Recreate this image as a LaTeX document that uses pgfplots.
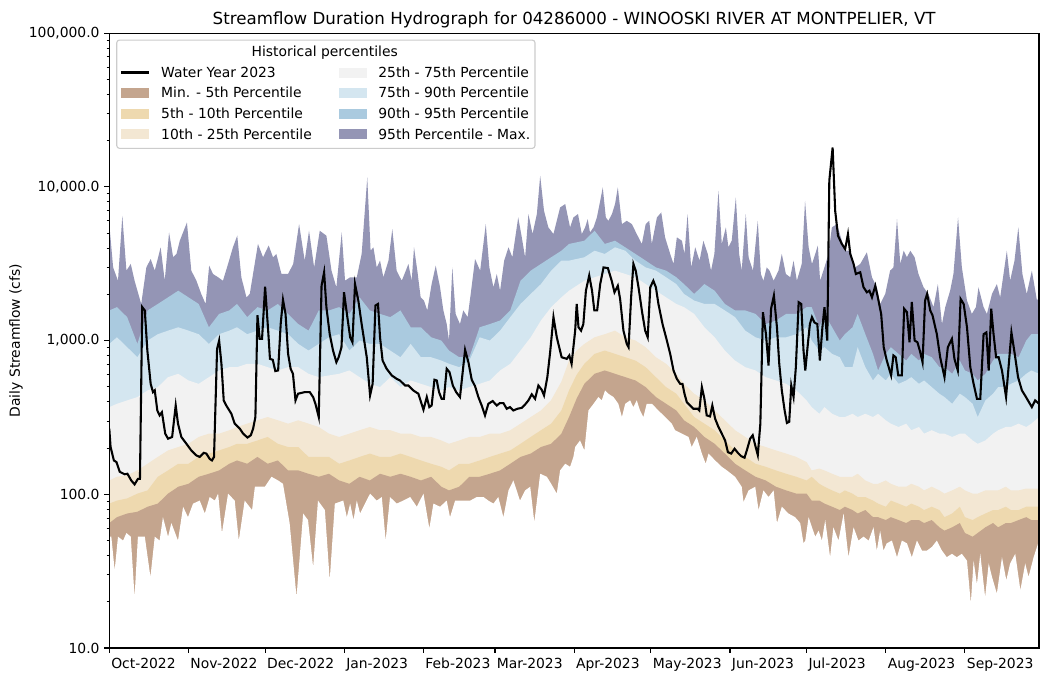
\documentclass[border=0pt]{standalone}
\usepackage{fontspec}
\setmainfont{DejaVu Sans}
\usepackage{pgfplots}
\pgfplotsset{compat=1.18}
\definecolor{cmin}{RGB}{196,165,142}
\definecolor{cfive}{RGB}{238,217,175}
\definecolor{cten}{RGB}{243,231,211}
\definecolor{cmid}{RGB}{242,242,242}
\definecolor{cseventy}{RGB}{212,230,240}
\definecolor{cninety}{RGB}{170,202,223}
\definecolor{cmax}{RGB}{148,149,181}
\pgfplotsset{
  patchleg/.style={legend image code/.code={\fill[##1] (0pt,-3.6pt) rectangle (20.4pt,3.6pt); \path (28.3pt,0pt);}},
  lineleg/.style={legend image code/.code={\draw[##1] (0pt,0pt) -- (20.4pt,0pt); \path (28.3pt,0pt);}},
}
\begin{document}
\begin{tikzpicture}
\path[use as bounding box] (-78.7pt,-24.5pt) rectangle (676.6pt,466.6pt);
\begin{axis}[
  at={(0,0)}, anchor=south west,
  scale only axis, width=669.4pt, height=442.8pt,
  ymode=log, ymin=10, ymax=100000, xmin=0, xmax=364,
  axis on top,
  axis line style={black, line width=0.8pt},
  tick pos=left, tick align=outside,
  major tick length=3.5pt, minor tick length=2pt,
  every tick/.style={black, line width=0.8pt},
  minor tick style={black, line width=0.6pt},
  xtick={0,31,61,92,123,151,182,212,243,273,304,335},
  xticklabels={Oct-2022,Nov-2022,Dec-2022,Jan-2023,Feb-2023,Mar-2023,Apr-2023,May-2023,Jun-2023,Jul-2023,Aug-2023,Sep-2023},
  xticklabel style={anchor=north west, xshift=-2.1pt},
  ytick={10,100,1000,10000,100000},
  yticklabels={10.0,100.0,{1,000.0},{10,000.0},{100,000.0}},
  minor ytick={20,30,40,50,60,70,80,90,200,300,400,500,600,700,800,900,2000,3000,4000,5000,6000,7000,8000,9000,20000,30000,40000,50000,60000,70000,80000,90000},
  tick label style={font=\fontsize{10}{12}\selectfont},
  ylabel={Daily Streamflow (cfs)},
  every axis y label/.style={at={(axis description cs:-0.1004,0.5)}, rotate=90, anchor=center, font=\fontsize{10}{12}\selectfont},
  legend columns=2,
  legend cell align=left,
  legend style={draw=none, fill=none, at={(rel axis cs:0.011,0.9475)}, anchor=north west, font=\fontsize{10}{12}\selectfont, column sep=0pt, row sep=4.95pt, inner sep=0pt, nodes={inner sep=0pt}},
]
% 95th - max
\addplot[draw=none, fill=cmax, forget plot] coordinates {
(0,5720)(1.5,2990)(3.4,2450)(5.1,6480)(6.7,2850)(8.4,3150)(9.9,2450)(12.5,1730)(14.5,2990)(16.2,3390)(17.8,2850)(20.1,4040)(21.7,2450)(23.4,5050)(25,3480)(26.3,3660)(27.6,4460)(30.4,5860)(32.1,2850)(34.1,2450)(36,2010)(37.7,1730)(39.1,3070)(40.6,2710)(42.6,2580)(44.5,2450)(46.5,3150)(48.4,4040)(50.1,4810)(51.7,2580)(53.7,1910)(55,2010)(58.2,4250)(60.2,3480)(62.4,4150)(64.1,3480)(65.4,3660)(67.4,2710)(70,2710)(72,3150)(74.3,5720)(76.5,3310)(78.2,5180)(80.2,2990)(82.4,5180)(85,4810)(87,2850)(88.9,2220)
(91,5050)(92.3,2450)(94.3,2580)(96.9,2580)(98.8,3660)(101,11500)(102.3,3840)(103.4,4040)(104.7,2990)(106,3310)(107.3,2580)(109.3,3310)(110.8,5310)(112.5,2850)(114.5,2450)(116.1,2850)(117.1,3150)(118.4,2450)(119.3,4040)(120.6,2850)(121.9,1910)(123.2,1820)(124.5,1570)(126.2,2330)(127.8,3070)(129.5,2220)(130.8,1570)(132.1,1280)(133,1000)(134.3,2990)(135.6,1490)(137.3,1280)(138.6,1570)(140.3,1420)(141.5,2010)(143.2,3390)(145.2,2850)(147.4,5720)(148.8,2990)(150.4,2220)(151.7,2710)(153,2110)(154.6,3310)(156.3,4040)(157.8,3480)(160.1,6320)(161.5,4690)(162.8,3480)(164.1,6650)(165.7,4930)(167.4,6650)(168.7,11800)(170.2,6980)(171.9,5450)(173.9,4930)(176.5,7340)(178.5,7720)(180.4,5450)(181.7,6320)(183.5,6650)
(185,4930)(186.3,5450)(187.3,6160)(188.2,5050)(189.6,5450)(190.9,6320)(192.2,8110)(193.2,9900)(194.4,6320)(195.4,6010)(196.8,6650)(198,7720)(199.1,9900)(200.7,5720)(202.6,6010)(204.6,5720)(206.5,4930)(208.5,4250)(210,5720)(211.4,6010)(212.4,4250)(214.4,6320)(216.1,6810)(217.6,4690)(219.6,3660)(220.9,3150)(222.2,4690)(224.2,4460)(225.2,3660)(226.4,6650)(227.8,2990)(229.4,4040)(231.1,3310)(232.6,4460)(234.3,3660)(235.6,2850)(236.9,3660)(238.5,9420)(239.8,4250)(241.4,5450)(242.4,4040)(243.7,4460)(245.3,8530)(246.6,3660)(247.6,2850)(249.2,6650)(250.3,3480)(252,2850)(253.9,6010)(255.1,2710)(256.1,2450)(257.4,2990)(258.5,2850)(260.1,2450)(262,2850)(263.3,3660)(264.9,2710)(266.6,2580)(267.9,3310)(269.2,2450)(271.1,3150)(272.4,8110)
(273.8,4040)(275.1,3150)(276.4,3660)(277.4,4150)(278.3,2450)(279.6,2850)(281.6,3660)(282.9,5450)(284.9,5720)(286.8,4460)(288.1,3840)(290.1,3840)(292,2990)(294,3150)(296.6,3750)(298.6,2580)(300.5,2220)(301.8,1730)(303.8,2010)(305.7,2850)(307,2990)(308.4,6160)(309.7,3150)(311,3840)(312.3,3480)(313.6,3840)(315.3,3480)(316.8,2710)(318.8,2220)(320.7,2010)(322.7,1650)(324.4,2330)(326,1280)(327.3,1650)(329.2,2110)(330.5,2710)(332.3,6320)(333.8,2990)(335.8,1820)(337.7,1490)(339.3,1650)(340.3,2220)(342.3,1650)(343.6,1490)(345.6,2010)(347.5,2330)(348.8,1910)(350.1,2710)(351.4,3840)(352.7,2450)(354.4,3310)(355.9,5450)(357.5,2710)(359.2,2010)(361.2,2850)(363.2,1820)(364,1910)
} \closedcycle;
% 90th - 95th
\addplot[draw=none, fill=cninety, forget plot] coordinates {
(0,1570)(3,1650)(7,1420)(11,951)(15,1570)(19,1730)(23,1910)(27,2110)(31,1910)(35,1730)(39,1220)(43,1490)(47,1570)(50,1730)(54,1420)(58,1650)(62,1570)(66,1730)(70,1490)(74,1280)(78,1160)(82,1570)(86,1570)(90,1650)
(94,1490)(98,1910)(102,1570)(106,1490)(110,1420)(114,1570)(118,1220)(122,1220)(126,1050)(130,1000)(133,861)(137,779)(141,779)(145,1220)(149,1280)(153,1350)(157,1570)(161,2450)(165,2850)(169,3150)(173,3480)(177,3840)(180,4250)
(186,4460)(190,5180)(194,4250)(198,4460)(202,4040)(206,3660)(210,3310)(214,2990)(218,2850)(222,2580)(225,2330)(229,2010)(233,2330)(237,2110)(241,1730)(245,1570)(249,1570)(253,1490)(257,1280)(261,1350)(265,1490)(269,1490)
(273,1650)(275,1650)(278,1220)(280,1490)(283,1220)(286,1000)(288,1100)(291,1220)(293,1490)(296,1100)(299,819)(301,639)(304,819)(306,905)(309,819)(312,741)(314,819)(317,741)(319,819)(322,779)(325,671)(327,671)(330,608)(333,741)(335,639)(338,608)(340,550)(343,608)(346,741)(348,819)(351,819)(353,819)(356,779)(359,1000)(361,1100)(364,1100)
} \closedcycle;
% 75th - 90th
\addplot[draw=none, fill=cseventy, forget plot] coordinates {
(0,951)(3,1050)(7,905)(11,779)(15,1000)(19,1100)(23,1160)(27,1220)(31,1160)(35,1100)(39,951)(43,1100)(47,1160)(50,1220)(54,1100)(58,1160)(62,1220)(66,1160)(70,1100)(74,951)(78,861)(82,951)(86,1050)(90,1100)
(94,861)(98,1000)(102,951)(106,951)(110,861)(114,779)(118,951)(122,779)(126,779)(130,741)(133,706)(137,671)(141,741)(145,1050)(149,1000)(153,1160)(157,1420)(161,1730)(165,2010)(169,2330)(173,2850)(177,3310)(180,3310)
(186,3480)(190,3840)(194,3660)(198,4040)(202,3840)(206,3310)(210,2990)(214,2850)(218,2580)(222,2330)(225,2010)(229,1820)(233,1730)(237,1730)(241,1570)(245,1420)(249,1160)(253,1050)(257,1000)(261,1050)(265,1050)(269,1100)
(273,1220)(275,1000)(278,861)(280,905)(283,819)(286,779)(288,671)(291,671)(293,905)(296,671)(299,550)(301,608)(304,550)(306,608)(309,523)(312,550)(314,578)(317,523)(319,550)(322,498)(325,451)(327,429)(330,388)(333,451)(335,429)(338,388)(340,318)(343,408)(346,451)(348,498)(351,498)(353,523)(356,550)(359,608)(361,639)(364,608)
} \closedcycle;
% 25th - 75th
\addplot[draw=none, fill=cmid, forget plot] coordinates {
(0,369)(3,388)(7,408)(11,429)(15,474)(19,498)(23,578)(27,608)(31,550)(35,523)(39,578)(43,639)(47,671)(50,671)(54,706)(58,706)(62,671)(66,639)(70,671)(74,671)(78,608)(82,578)(86,593)(90,608)
(94,639)(98,578)(102,523)(106,498)(110,578)(114,498)(118,550)(122,523)(126,498)(130,474)(133,498)(137,474)(141,498)(145,523)(149,550)(153,639)(157,706)(161,861)(165,1050)(169,1350)(173,1650)(177,1910)(180,2110)
(186,2450)(190,2580)(194,2710)(198,2850)(202,2710)(206,2580)(210,2330)(214,2110)(218,1910)(222,1730)(225,1650)(229,1490)(233,1220)(237,1050)(241,861)(245,741)(249,671)(253,639)(257,578)(261,550)(265,523)(269,474)
(273,408)(275,369)(278,334)(280,369)(283,334)(286,318)(288,318)(291,334)(293,318)(296,334)(299,318)(301,334)(304,303)(306,288)(309,274)(312,288)(314,261)(317,274)(319,248)(322,261)(325,248)(327,248)(330,236)(333,248)(335,248)(338,224)(340,213)(343,224)(346,248)(348,261)(351,274)(353,274)(356,288)(359,274)(361,288)(364,318)
} \closedcycle;
% 10th - 25th
\addplot[draw=none, fill=cten, forget plot] coordinates {
(0,123)(3,130)(7,133)(11,143)(15,158)(19,175)(23,193)(27,203)(31,213)(35,236)(39,248)(43,248)(47,261)(50,274)(54,288)(58,303)(62,318)(66,303)(70,288)(74,303)(78,288)(82,274)(86,248)(90,236)
(94,248)(98,261)(102,274)(106,261)(110,261)(114,248)(118,248)(122,236)(126,236)(130,224)(133,213)(137,224)(141,236)(145,236)(149,248)(153,248)(157,261)(161,288)(165,318)(169,351)(173,410)(177,540)(180,741)
(183,861)(186,951)(190,1050)(194,1100)(198,1160)(202,1050)(206,1000)(210,905)(214,779)(218,706)(222,608)(225,523)(229,451)(233,408)(237,351)(241,303)(245,261)(249,236)(253,213)(257,203)(261,193)(265,184)(269,175)
(273,162)(275,143)(278,147)(280,143)(283,136)(286,130)(288,130)(291,130)(293,136)(296,123)(299,117)(301,117)(304,123)(306,117)(309,112)(312,112)(314,117)(317,112)(319,106)(322,112)(325,106)(327,101)(330,106)(333,112)(335,106)(338,101)(340,101)(343,106)(346,106)(348,106)(351,112)(353,106)(356,106)(359,109)(361,109)(364,109)
} \closedcycle;
% 5th - 10th
\addplot[draw=none, fill=cfive, forget plot] coordinates {
(0,87)(3,91)(7,94)(11,101)(15,106)(19,130)(23,143)(27,158)(31,158)(35,175)(39,184)(43,193)(47,203)(50,213)(54,213)(58,224)(62,236)(66,213)(70,203)(74,203)(78,175)(82,175)(86,175)(90,158)
(94,166)(98,175)(102,184)(106,175)(110,175)(114,184)(118,175)(122,166)(126,158)(130,151)(133,143)(137,158)(141,158)(145,166)(149,175)(153,184)(157,193)(161,213)(165,236)(169,261)(173,288)(177,351)(180,474)
(183,600)(186,706)(190,819)(194,861)(198,819)(202,779)(206,741)(210,671)(214,578)(218,498)(222,451)(225,388)(229,318)(233,288)(237,261)(241,224)(245,193)(249,175)(253,158)(257,151)(261,143)(265,136)(269,130)
(273,123)(275,130)(278,117)(280,112)(283,106)(286,101)(288,106)(291,101)(293,96)(296,96)(299,91)(301,87)(304,83)(306,91)(309,87)(312,83)(314,87)(317,83)(319,79)(322,83)(325,79)(327,71)(330,75)(333,83)(335,71)(338,68)(340,71)(343,75)(346,79)(348,79)(351,83)(353,79)(356,79)(359,83)(361,83)(364,83)
} \closedcycle;
% min - 5th
\addplot[draw=none, fill=cmin, forget plot] coordinates {
(0,65)(3,71)(7,75)(11,77)(15,83)(19,87)(23,101)(27,112)(31,117)(35,130)(39,136)(43,143)(47,158)(50,166)(54,158)(58,175)(62,158)(66,166)(70,143)(74,143)(78,136)(82,130)(86,136)(90,123)
(94,117)(98,130)(102,123)(106,136)(110,130)(114,136)(118,130)(122,123)(126,130)(130,112)(133,106)(137,112)(141,130)(145,130)(149,136)(153,143)(157,158)(161,175)(165,184)(169,203)(173,213)(177,248)(180,318)
(183,420)(186,523)(190,608)(194,639)(198,608)(202,578)(206,550)(210,498)(214,429)(218,388)(222,351)(225,303)(229,274)(233,236)(237,213)(241,184)(245,158)(249,143)(253,130)(257,123)(261,112)(265,106)(269,101)
(273,101)(275,91)(278,91)(280,87)(283,83)(286,79)(288,83)(291,79)(293,75)(296,79)(299,71)(301,71)(304,68)(306,71)(309,68)(312,65)(314,68)(317,68)(319,65)(322,68)(325,61)(327,58)(330,61)(333,65)(335,56)(338,53)(340,56)(343,61)(346,65)(348,61)(351,65)(353,65)(356,68)(359,71)(361,68)(364,68)
} \closedcycle;
% below min (white)
\addplot[draw=none, fill=white, forget plot] coordinates {
(0,53)(0.8,53)(2.1,32)(3.4,53)(5.4,50)(6.7,56)(8.4,53)(9.9,21.5)(11.2,53)(13.9,53)(16.1,29)(17.8,53)(19.7,50)(21,71)(23,53)(24.3,65)(26.9,50)(28.9,83)(30.8,71)(32.8,87)(35.4,91)(37.4,75)(39.3,96)(41.3,91)(42.6,101)(44.1,56)(46.5,101)(49.1,91)(50.7,50)(53,91)(55.9,79)(57,112)(58.9,112)(60.9,112)(63.5,130)(66.1,123)(68,117)(70.6,65)(73.3,21.5)(75.9,75)(77.8,68)(79.8,33.7)(81.7,91)(84.4,79)(86.3,27.6)(88.3,87)
(91.6,91)(93,71)(94.3,87)(95.6,68)(96.9,91)(98.2,75)(100.1,87)(102.1,101)(104.7,91)(106.7,96)(108.2,50)(109.9,96)(112.5,87)(115.1,91)(117.8,96)(120.4,83)(123,101)(125.3,60)(126.9,87)(129.5,83)(132.1,91)(133.4,71)(135.4,91)(138.6,91)(141.3,91)(143.9,96)(146.5,96)(148.4,91)(150.4,87)(152.3,96)(154.3,71)(156.3,106)(158.2,123)(160.8,91)(162.8,106)(164.8,112)(166.4,66)(168.7,136)(171.3,130)(173,117)(175.2,101)(176.5,143)(178.5,158)(180.4,151)(181.7,175)
(182.4,203)(184.3,224)(186,193)(187.6,351)(189.6,388)(191.5,429)(192.8,408)(194.1,474)(195.4,451)(197.4,429)(199.3,388)(200.7,318)(202,388)(203.9,408)(205.2,369)(206.5,408)(207.8,351)(209.1,318)(210.4,388)(212.4,388)(215,351)(217.6,318)(220.2,288)(221.5,261)(224.2,248)(226.8,236)(228,203)(230,236)(232,184)(233.5,158)(234.6,184)(237.2,166)(239.8,151)(241.8,143)(245,130)(247.6,112)(248.3,89)(250.3,106)(252.9,112)(254.2,79)(256.1,106)(258.1,96)(260.1,106)(261.4,65)(263.3,83)(265.9,75)(268.5,71)(270.5,65)(271.8,48)
(272.5,50)(273.8,71)(275.1,61)(276.4,53)(277.7,58)(279,50)(280.3,68)(282.2,39)(283.5,61)(285.5,50)(287.5,75)(289.4,39)(291.4,61)(293.3,50)(295.3,53)(297.3,50)(299.2,61)(300.5,43)(301.8,58)(303.1,43)(304.4,48)(306.4,50)(308.4,39)(310.3,50)(312.3,48)(314.2,39)(316.2,50)(318.2,43)(320.1,43)(322.1,45.5)(324,50)(326,43)(327.9,39)(329.9,41)(331.8,39)(333.8,41)(335.8,37)(337.3,19.5)(338.4,37)(339.7,26)(341,41)(342.9,21.5)(344.3,35.5)(345.6,29)(347.5,22.6)(349.5,39)(351.2,27.6)(352.7,35.5)(354.7,41)(356.7,23.8)(358.6,35.5)(359.9,29)(361.9,39)(364,50)
} \closedcycle;
% Water Year 2023
\addplot[black, line width=1.5pt, forget plot] coordinates {
(0,267)(0.5,203)(1.8,166)(2.8,162)(4.1,140)(6,135)(7.1,136)(8.6,123)(9.9,116)(11.2,126)(12,126)(12.9,1650)(13.9,1570)(14.9,861)(16.2,523)(17.1,462)(17.8,474)(18.8,351)(19.7,326)(20.6,342)(21.9,248)(23,230)(24.6,236)(26,378)(26.9,288)(28.2,236)(30.2,213)(32.1,193)(34.1,179)(35.4,175)(37,186)(38,184)(39.3,170)(40.2,166)(41,175)(42.2,883)(43,1000)(43.9,706)(44.8,408)(45.8,378)(47.8,334)(49.1,288)(51.1,267)(52.4,248)(54.1,234)(55.4,242)(56.3,267)(57.2,318)(58,1460)(58.9,1025)(59.8,1025)(61,2240)(62.2,1160)(62.9,760)(64,750)(65,633)(66.1,639)(67.1,1280)(68,1840)(69,1490)(70,819)(71,655)(71.9,608)(72.9,408)(73.9,451)(76.5,462)(78.5,462)(79.8,429)(80.7,388)(82,318)(83.1,2270)(84.1,2780)(85,1650)(86.3,1100)(87.6,861)(88.9,723)(89.8,779)(90.9,905)
(91.9,2060)(93.2,1420)(94.3,1050)(95.2,975)(96.2,2330)(97.5,1820)(98.8,1280)(100.8,779)(102.1,440)(103.1,523)(104.2,1690)(105.2,1730)(106,1050)(107,741)(108.6,655)(110.6,593)(112.5,564)(113.8,550)(115.8,510)(117.1,510)(119,474)(121,451)(123,355)(124.3,429)(125.3,369)(126.2,378)(127.3,556)(128.2,550)(129.1,462)(130.1,418)(131,418)(132.1,655)(133.2,623)(134.5,510)(135.8,462)(137.3,429)(139.3,870)(140.6,723)(141.9,556)(143.2,505)(144.5,429)(145.8,378)(147.1,326)(148.4,388)(150.1,404)(151.7,378)(152.9,392)(154.3,392)(155.6,360)(156.9,369)(158.2,351)(159.8,360)(161.5,365)(162.8,384)(164.1,408)(165.4,447)(166.7,418)(168,510)(169.3,478)(170.2,440)(171.5,578)(172.6,840)(173.9,1420)(175.2,1050)(177.1,779)(179.1,760)(180.1,800)(181,706)(182.4,1160)(183,1730)
(183.7,1220)(184.7,1160)(185.6,1280)(186.6,2110)(187.9,2650)(189,2110)(189.9,1570)(191,1570)(192.2,2330)(193.5,2990)(195.2,2960)(196.7,2450)(197.8,2060)(199.1,2270)(200,1860)(201.3,1160)(202.6,951)(203.3,905)(204.3,1910)(205.2,3150)(206.1,2850)(207.2,2220)(208.5,1570)(209.8,1160)(210.8,1050)(211.8,2220)(213,2450)(214,2220)(215,1730)(216.6,1280)(218.3,1000)(219.6,819)(220.9,639)(222.2,564)(223.5,523)(224.4,523)(225.2,451)(226.1,398)(227.4,378)(228.7,360)(230.4,360)(231,351)(232,498)(233,418)(233.9,326)(235.2,321)(236.1,378)(237.2,310)(238.5,274)(239.8,248)(241.1,224)(242.2,188)(243.5,184)(244.8,198)(246.1,186)(247.4,177)(248.7,173)(249.6,193)(250.9,230)(251.9,242)(252.9,208)(253.9,180)(254.9,288)(255.9,1530)(257.1,1100)(258.1,688)(259.1,1610)(260.2,1960)(261.4,1220)(262.3,706)(263.3,474)(264.4,351)(265.3,291)(266.2,296)(267,510)(267.9,429)(268.8,671)(269.9,1775)(270.9,1730)(271.8,861)
(272.5,639)(273.5,951)(274.3,1280)(275.1,1420)(276.1,1310)(277.2,1280)(278.2,741)(279.2,1220)(280,1650)(281.1,1000)(281.9,10950)(283.2,18000)(284.2,6980)(285.3,4810)(286.8,4250)(288.1,3940)(289.2,4930)(290.1,3660)(291.4,3150)(292.3,2710)(294,2780)(295.3,2220)(296.6,2060)(297.6,2110)(298.6,1910)(299.9,2270)(300.9,1910)(302.2,1490)(303.2,905)(304.4,741)(306.1,593)(307,800)(307.9,779)(308.9,593)(310.3,593)(311.2,1610)(312.3,1530)(313.3,975)(314.2,1780)(315.3,1000)(316.4,975)(317.5,840)(318.4,723)(319.4,1820)(320.2,2010)(321.4,1570)(322.3,1460)(324,1100)(325.3,779)(327,578)(328.3,905)(329.9,1025)(330.9,760)(332.2,639)(333.3,1865)(334.5,1730)(335.8,1220)(337.1,671)(338.4,523)(339.7,418)(341,418)(342.3,1100)(343.4,1130)(344.3,639)(345.3,1610)(346.2,1100)(347.2,779)(348.2,779)(349.5,639)(351.1,429)(352.4,779)(353.2,1130)(354.5,819)(355.8,578)(357.3,474)(358.9,429)(361.2,369)(362.5,408)(364,388)
};
% legend frame and title
\draw[rounded corners=2pt, draw=black!20, line width=0.8pt, fill=white] (rel axis cs:0.0080,0.8125) rectangle (rel axis cs:0.4579,0.9886);
\node[anchor=base, font=\fontsize{10}{12}\selectfont] at (rel axis cs:0.2317,0.9626) {Historical percentiles};
% legend entries (row-major for two columns)
\addlegendimage{lineleg, black, line width=1.5pt}
\addlegendentry{\makebox[128.1pt][l]{\strut Water Year 2023}}
\addlegendimage{patchleg, fill=cmid, draw=none}
\addlegendentry{\strut 25th - 75th Percentile}
\addlegendimage{patchleg, fill=cmin, draw=none}
\addlegendentry{\makebox[128.1pt][l]{\strut Min. - 5th Percentile}}
\addlegendimage{patchleg, fill=cseventy, draw=none}
\addlegendentry{\strut 75th - 90th Percentile}
\addlegendimage{patchleg, fill=cfive, draw=none}
\addlegendentry{\makebox[128.1pt][l]{\strut 5th - 10th Percentile}}
\addlegendimage{patchleg, fill=cninety, draw=none}
\addlegendentry{\strut 90th - 95th Percentile}
\addlegendimage{patchleg, fill=cten, draw=none}
\addlegendentry{\makebox[128.1pt][l]{\strut 10th - 25th Percentile}}
\addlegendimage{patchleg, fill=cmax, draw=none}
\addlegendentry{\strut 95th Percentile - Max.}
\end{axis}
\node[anchor=base, font=\fontsize{12}{14}\selectfont] at (334.7pt,448.8pt) {Streamflow Duration Hydrograph for 04286000 - WINOOSKI RIVER AT MONTPELIER, VT};
\end{tikzpicture}
\end{document}
